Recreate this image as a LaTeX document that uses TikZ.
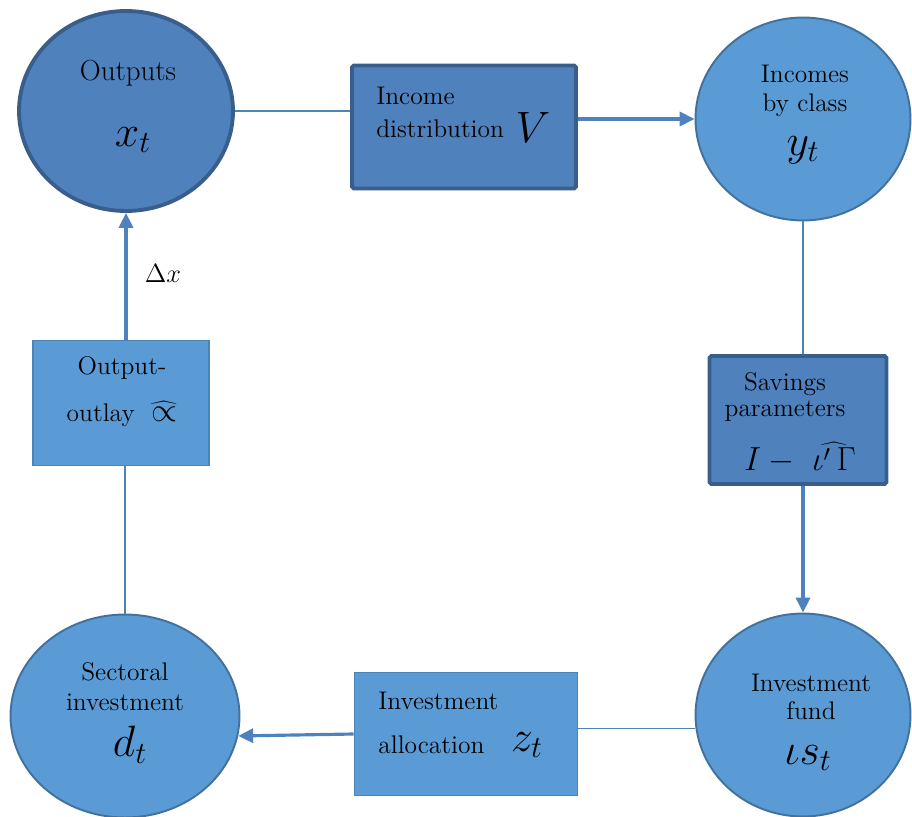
\RequirePackage{fix-cm}
\documentclass[tikz,border=0pt]{standalone}
\usepackage{fontspec}
\usepackage{tikz}
\usetikzlibrary{shapes.geometric,arrows.meta}
\definecolor{accdark}{HTML}{4F81BD}
\definecolor{edgedark}{HTML}{3A5E8C}
\definecolor{acclight}{HTML}{5B9BD5}
\definecolor{edgelight}{HTML}{41719C}
\tikzset{
  darkcirc/.style  = {ellipse, draw=edgedark, line width=2.2pt, fill=accdark, inner sep=0},
  lightcirc/.style = {ellipse, draw=edgelight, line width=1.1pt, fill=acclight, inner sep=0},
  darkbox/.style   = {rectangle, draw=edgedark, line width=2.2pt, fill=accdark, rounded corners=1pt, inner sep=0},
  lightbox/.style  = {rectangle, draw=edgelight!55!acclight, line width=1pt, fill=acclight, inner sep=0},
  link/.style      = {draw=acclight!85!black, line width=0.8pt},
  flow/.style      = {draw=accdark, line width=1.8pt, -{Triangle[length=8.5pt,width=8pt]}},
  et/.style        = {font=\fontsize{14.5}{17}\selectfont, inner sep=0},
  sym/.style       = {font=\fontsize{25}{29}\selectfont, inner sep=0}
}
\begin{document}
\begin{tikzpicture}[x=0.02cm,y=-0.02cm]
  \useasboundingbox (0,0) rectangle (912,817);
  % shapes
  \node[darkcirc, minimum width=4.28cm, minimum height=4.0cm] (out) at (126,111) {};
  \node[darkbox, minimum width=4.48cm, minimum height=2.46cm] (dist) at (464,127) {};
  \node[lightcirc, minimum width=4.3cm, minimum height=4.06cm] (inc) at (803,119) {};
  \node[darkbox, minimum width=3.54cm, minimum height=2.56cm] (sav) at (798,420) {};
  \node[lightcirc, minimum width=4.3cm, minimum height=4.06cm] (fund) at (803,715) {};
  \node[lightbox, minimum width=4.46cm, minimum height=2.46cm] (alloc) at (466,734) {};
  \node[lightcirc, minimum width=4.58cm, minimum height=4.06cm] (sect) at (125,716) {};
  \node[lightbox, minimum width=3.52cm, minimum height=2.5cm] (outlay) at (121,403) {};
  % connectors
  \draw[link] (out.east) -- (dist.west |- out.east);
  \draw[flow] (dist.east |- inc.west) -- (inc.west);
  \draw[link] (inc.south) -- (inc.south |- sav.north);
  \draw[flow] (fund.north |- sav.south) -- (fund.north);
  \draw[link] (fund.187) -- (alloc.east |- fund.187);
  \draw[flow] (alloc.west) -- (sect.-10);
  \draw[link] (sect.north) -- (sect.north |- outlay.south);
  \draw[flow] (out.south |- outlay.north) -- (out.south);
  % texts
  \node[et, font=\fontsize{16.5}{19}\selectfont] (outlab) at (128,73) {Outputs};
  \node[sym] (outsym) at (133,140) {$x_t$};
  \node[et, anchor=west] (distlab1) at (376,96) {Income};
  \node[et, anchor=west] (distlab2) at (376,129) {distribution};
  \node[sym] (distsym) at (533,127) {$V$};
  \node[et] (inclab1) at (805,74) {Incomes};
  \node[et] (inclab2) at (805,105) {by class};
  \node[sym] (incsym) at (803,150) {$y_t$};
  \node[et] (savlab1) at (785,384) {Savings};
  \node[et] (savlab2) at (785,411) {parameters};
  \node[sym, font=\fontsize{19}{22}\selectfont] (savsym) at (800,458) {$I -\ \widehat{\iota'\,\Gamma}$};
  \node[et] (outlaylab1) at (122,368) {Output-};
  \node[et] (outlaylab2) at (122,414) {outlay \ {\fontsize{19}{21}\selectfont$\widehat{\propto}$}};
  \node[et, font=\fontsize{15}{18}\selectfont] (dx) at (163,273) {$\Delta x$};
  \node[et] (sectlab1) at (125,672) {Sectoral};
  \node[et] (sectlab2) at (125,702) {investment};
  \node[sym] (sectsym) at (130,745) {$d_t$};
  \node[et, anchor=west] (alloclab1) at (378,701) {Investment};
  \node[et, anchor=west] (alloclab2) at (378,745) {allocation};
  \node[sym] (allocsym) at (527,745) {$z_t$};
  \node[et] (fundlab1) at (811,683) {Investment};
  \node[et] (fundlab2) at (811,711) {fund};
  \node[sym] (fundsym) at (808,758) {$\iota s_t$};
\end{tikzpicture}
\end{document}
